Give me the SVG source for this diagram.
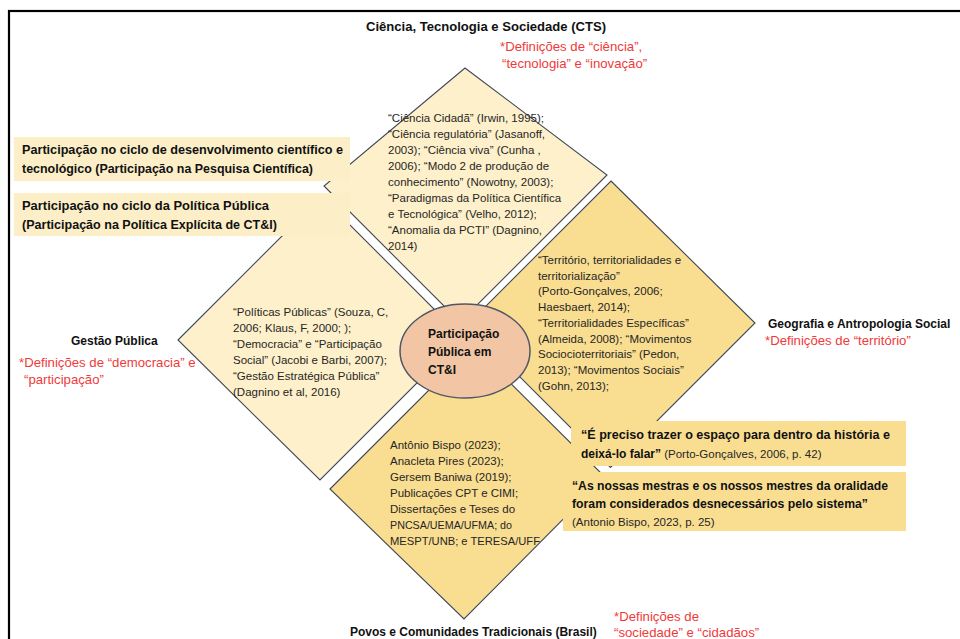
<svg xmlns="http://www.w3.org/2000/svg" width="960" height="639" viewBox="0 0 960 639">
<style>
.t{font-family:"Liberation Sans",Arial,sans-serif;font-size:11.5px;fill:#262626}
.b{font-family:"Liberation Sans",Arial,sans-serif;font-size:12px;font-weight:bold;fill:#111}
.r{font-family:"Liberation Sans",Arial,sans-serif;font-size:13.2px;fill:#F03A3A}
.light{fill:#FDF0CA;stroke:#3E4757;stroke-width:1.1}
.dark{fill:#F9DD90;stroke:#3E4757;stroke-width:1.1}
.boxl{fill:#FCEFC8}
.boxd{fill:#F9DE91}
</style>
<rect width="960" height="639" fill="#fff"/>
<rect x="9" y="11" width="960" height="640" fill="none" stroke="#000" stroke-width="2.2"/>

<g id="diamond-cts">
<polygon class="light" points="465,68 607,175 460,322 324,186"/>
<text class="t" x="388" y="122">“Ciência Cidadã” (Irwin, 1995);</text>
<text class="t" x="388" y="138">“Ciência regulatória” (Jasanoff,</text>
<text class="t" x="388" y="154">2003); “Ciência viva” (Cunha ,</text>
<text class="t" x="388" y="170">2006); “Modo 2 de produção de</text>
<text class="t" x="388" y="186">conhecimento” (Nowotny, 2003);</text>
<text class="t" x="388" y="202">“Paradigmas da Política Científica</text>
<text class="t" x="388" y="218">e Tecnológica” (Velho, 2012);</text>
<text class="t" x="388" y="234">“Anomalia da PCTI” (Dagnino,</text>
<text class="t" x="388" y="250">2014)</text>
</g>

<g id="diamond-gestao">
<polygon class="light" points="178,340 321.5,196.5 462.5,337.5 320,480"/>
<text class="t" x="233" y="316">“Políticas Públicas” (Souza, C,</text>
<text class="t" x="233" y="332">2006; Klaus, F, 2000; );</text>
<text class="t" x="233" y="348">“Democracia” e “Participação</text>
<text class="t" x="233" y="364">Social” (Jacobi e Barbi, 2007);</text>
<text class="t" x="233" y="380">“Gestão Estratégica Pública”</text>
<text class="t" x="233" y="396">(Dagnino et al, 2016)</text>
</g>

<g id="diamond-geo">
<polygon class="dark" points="611,181 755,323 610.5,467.5 467.5,324.5"/>
<g class="t" font-size="12">
<text x="538" y="264">“Território, territorialidades e</text>
<text x="538" y="279.7">territorialização”</text>
<text x="538" y="295.4">(Porto-Gonçalves, 2006;</text>
<text x="538" y="311.1">Haesbaert, 2014);</text>
<text x="538" y="326.8">“Territorialidades Específicas”</text>
<text x="538" y="342.5">(Almeida, 2008); “Movimentos</text>
<text x="538" y="358.2">Sociocioterritoriais” (Pedon,</text>
<text x="538" y="373.9">2013); “Movimentos Sociais”</text>
<text x="538" y="389.6">(Gohn, 2013);</text>
</g>
</g>

<g id="diamond-povos">
<polygon class="dark" points="330,489 473,346 605,477 464,619"/>
<text class="t" x="390" y="449">Antônio Bispo (2023);</text>
<text class="t" x="390" y="465">Anacleta Pires (2023);</text>
<text class="t" x="390" y="481">Gersem Baniwa (2019);</text>
<text class="t" x="390" y="497">Publicações CPT e CIMI;</text>
<text class="t" x="390" y="513">Dissertações e Teses do</text>
<text class="t" x="390" y="529" textLength="122" lengthAdjust="spacingAndGlyphs">PNCSA/UEMA/UFMA; do</text>
<text class="t" x="390" y="545" textLength="150" lengthAdjust="spacingAndGlyphs">MESPT/UNB; e TERESA/UFF</text>
</g>

<g id="center">
<ellipse cx="465" cy="351" rx="65" ry="47" fill="#F2C6A4" stroke="#4F5766" stroke-width="1.5"/>
<text class="b" x="428" y="338" font-size="12.5">Participação</text>
<text class="b" x="428" y="356" font-size="12.5">Pública em</text>
<text class="b" x="428" y="374" font-size="12.5">CT&amp;I</text>
</g>

<g id="box-ciclo-cientifico">
<rect class="boxl" x="14" y="137" width="336" height="44"/>
<text class="b" x="22" y="154" textLength="321" lengthAdjust="spacingAndGlyphs">Participação no ciclo de desenvolvimento científico e</text>
<text class="b" x="22" y="173" textLength="291" lengthAdjust="spacingAndGlyphs">tecnológico (Participação na Pesquisa Científica)</text>
</g>

<g id="box-ciclo-politica">
<rect class="boxl" x="14" y="193" width="336" height="43"/>
<text class="b" x="22" y="210" textLength="247" lengthAdjust="spacingAndGlyphs">Participação no ciclo da Política Pública</text>
<text class="b" x="22" y="229" textLength="255" lengthAdjust="spacingAndGlyphs">(Participação na Política Explícita de CT&amp;I)</text>
</g>

<g id="quote-1">
<rect class="boxd" x="571" y="421" width="335" height="45"/>
<text class="b" x="581" y="439" textLength="309" lengthAdjust="spacingAndGlyphs">“É preciso trazer o espaço para dentro da história e</text>
<text x="581" y="458" class="t" font-size="12.5"><tspan class="b">deixá-lo falar”</tspan> (Porto-Gonçalves, 2006, p. 42)</text>
</g>

<g id="quote-2">
<rect class="boxd" x="563" y="472" width="343" height="59"/>
<text class="b" x="572" y="490" textLength="316" lengthAdjust="spacingAndGlyphs">“As nossas mestras e os nossos mestres da oralidade</text>
<text class="b" x="572" y="508" textLength="296" lengthAdjust="spacingAndGlyphs">foram considerados desnecessários pelo sistema”</text>
<text class="t" x="572" y="526" font-size="12.8">(Antonio Bispo, 2023, p. 25)</text>
</g>

<g id="label-cts">
<text class="b" x="366" y="31" textLength="240" lengthAdjust="spacingAndGlyphs">Ciência, Tecnologia e Sociedade (CTS)</text>
<text class="r" x="500" y="51">*Definições de “ciência”,</text>
<text class="r" x="502" y="68">“tecnologia” e “inovação”</text>
</g>

<g id="label-gestao">
<text class="b" x="71" y="345">Gestão Pública</text>
<text class="r" x="19" y="367">*Definições de “democracia” e</text>
<text class="r" x="24" y="384">“participação”</text>
</g>

<g id="label-geo">
<text class="b" x="768" y="328" font-size="12.5">Geografia e Antropologia Social</text>
<text class="r" x="765" y="345">*Definições de “território”</text>
</g>

<g id="label-povos">
<text class="b" x="350" y="636">Povos e Comunidades Tradicionais (Brasil)</text>
<text class="r" x="614" y="621">*Definições de</text>
<text class="r" x="614" y="637">“sociedade” e “cidadãos”</text>
</g>

<g id="connectors"/>
</svg>
